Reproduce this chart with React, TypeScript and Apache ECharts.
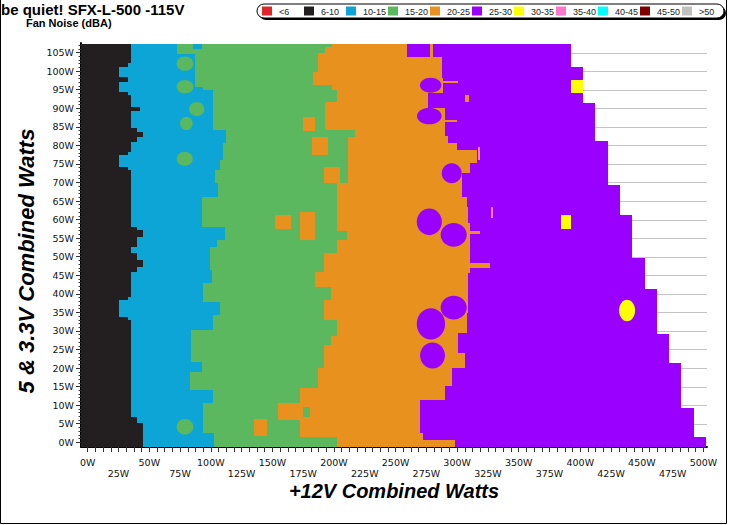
import { useEffect, useRef } from "react";
import * as echarts from "echarts";

// ---------- axes ----------
const X_MIN = -5.44;
const X_MAX = 502.9;
const Y_MIN = -1.27;
const Y_MAX = 107.57;
const Y_DATA_TOP = 107.3;

const X_LABEL_VALUES = [0, 25, 50, 75, 100, 125, 150, 175, 200, 225, 250, 275, 300, 325, 350, 375, 400, 425, 450, 475, 500];
const Y_LABEL_VALUES = [0, 5, 10, 15, 20, 25, 30, 35, 40, 45, 50, 55, 60, 65, 70, 75, 80, 85, 90, 95, 100, 105];

const TITLE = "be quiet! SFX-L-500 -115V";
const SUBTITLE = "Fan Noise (dBA)";
const X_NAME = "+12V Combined Watts";
const Y_NAME = "5 & 3.3V Combined Watts";

// ---------- legend ----------
const LEGEND_LABELS = ["<6", "6-10", "10-15", "15-20", "20-25", "25-30", "30-35", "35-40", "40-45", "45-50", ">50"];
const LEGEND_COLORS = ["#e0262b", "#231f20", "#0da5d5", "#5cb85e", "#e8911f", "#9900ff", "#ffff00", "#ff77cc", "#00ffff", "#7f0000", "#c0c0c0"];

// ---------- band edges: [fromY, toY, x] (watts) ----------
// edge between 6-10 (black) and 10-15 (blue)
const EDGE_BLACK_BLUE: number[][] = [
  [-1.3, 5.1, 44.7], [5.1, 6.9, 39.8], [6.9, 32.9, 35.2], [32.9, 33.8, 33], [33.8, 38.3, 25.7],
  [38.3, 39.2, 33], [39.2, 46, 35.2], [46, 47.3, 39.8], [47.3, 49.1, 44.7], [49.1, 50.9, 39.8],
  [50.9, 52.7, 35.2], [52.7, 55.4, 39.8], [55.4, 57.2, 44.7], [57.2, 58.1, 39.8], [58.1, 73.3, 35.2],
  [73.3, 74.2, 33], [74.2, 77.4, 25.7], [77.4, 78.3, 33], [78.3, 80.9, 35.2], [80.9, 82.3, 39.8],
  [82.3, 83.7, 44.7], [83.7, 84.6, 39.8], [84.6, 89.3, 35.2], [89.3, 90.2, 42.5], [90.2, 93.5, 35.2],
  [93.5, 94.4, 33], [94.4, 97.1, 25.7], [97.1, 98.5, 33], [98.5, 101.2, 25.7], [101.2, 102.1, 33],
  [102.1, 107.3, 35.2],
];
// edge between 10-15 (blue) and 15-20 (green)
const EDGE_BLUE_GREEN: number[][] = [
  [-1.3, 2.4, 102.7], [2.4, 10.5, 93.3], [10.5, 14.1, 102.1], [14.1, 19, 83], [19, 21.7, 92.6],
  [21.7, 30.3, 83.5], [30.3, 34.3, 102.1], [34.3, 37.9, 107.5], [37.9, 42.8, 94], [42.8, 46.4, 100.6],
  [46.4, 52.7, 99.2], [52.7, 54.5, 104.8], [54.5, 58.1, 111.5], [58.1, 66.2, 92.6], [66.2, 69.8, 106],
  [69.8, 73.3, 103.4], [73.3, 76, 107.5], [76, 80.5, 110.2], [80.5, 84.1, 112.1], [84.1, 94.9, 102.1],
  [94.9, 95.8, 94], [95.8, 104.6, 87.2], [104.6, 107.3, 72.3],
];
// edge between 15-20 (green) and 20-25 (orange)
const EDGE_GREEN_ORANGE: number[][] = [
  [-1.3, 1.5, 202.2], [1.5, 6, 172.4], [6, 10.5, 154.8], [10.5, 14.5, 172.4], [14.5, 19.9, 187.3],
  [19.9, 26.2, 191.9], [26.2, 28.5, 197.4], [28.5, 32.9, 202.2], [32.9, 38.4, 191.9], [38.4, 41.9, 197.4],
  [41.9, 45.9, 195.5], [45.9, 50.9, 191.9], [50.9, 54.5, 202.2], [54.5, 56.8, 210.4], [56.8, 69.8, 202.2],
  [69.8, 82.3, 211.7], [82.3, 84.1, 217.1], [84.1, 91.8, 192.7], [91.8, 94.9, 202.2], [94.9, 96.3, 198.2],
  [96.3, 99.8, 182.7], [99.8, 104.8, 187.3], [104.8, 106.6, 192.7], [106.6, 107.3, 198.2],
];
// edge between 20-25 (orange) and 25-30 (purple)
const EDGE_ORANGE_PURPLE: number[][] = [
  [-1.3, 0.7, 298.3], [0.7, 2.5, 272], [2.5, 11.5, 269.9], [11.5, 15.1, 290.2], [15.1, 20, 295.6],
  [20, 24, 306.5], [24, 29.4, 301.1], [29.4, 34.7, 307.8], [34.7, 39.3, 309], [39.3, 45.5, 309.2],
  [45.5, 59, 310.6], [59, 63.5, 309.2], [63.5, 66.2, 307.8], [66.2, 72.5, 303.8], [72.5, 75.2, 310.6],
  [75.2, 78.8, 316], [78.8, 80.6, 299.7], [80.6, 82.4, 292.9], [82.4, 90, 290.2], [90, 94, 276.7],
  [94, 98.1, 288.9], [98.1, 103.9, 287.5], [103.9, 107.3, 259.1],
];
// right end of measured data (25-30 purple ends)
const EDGE_PURPLE_END: number[][] = [
  [-1.3, 1.5, 502.2], [1.5, 9.3, 492.4], [9.3, 21.3, 482.1], [21.3, 29.2, 472.1], [29.2, 41.2, 462.4],
  [41.2, 49.6, 452.4], [49.6, 61.2, 442], [61.2, 69.3, 432.3], [69.3, 81.3, 422.3], [81.3, 91.3, 412.3],
  [91.3, 101.2, 402], [101.2, 107.3, 392.5],
];
const BAND_CLASSES = [1, 2, 3, 4, 5];

// ---------- islands: ellipses [cx, cy, rx, ry, class] ----------
const ISLANDS_ROUND: number[][] = [
  [79, 102, 6.8, 1.9, 3], [79, 95.8, 6.8, 1.8, 3], [88.5, 89.8, 6.2, 1.9, 3], [80.1, 85.9, 5.1, 1.8, 3],
  [78.8, 76.4, 6.5, 1.9, 3], [79, 4.2, 6.8, 2.1, 3],
  [278.5, 96.2, 8.7, 2.0, 5], [277.4, 87.9, 10, 2.25, 5], [295.6, 72.5, 8.1, 2.7, 5], [277.4, 59.4, 10.2, 3.6, 5],
  [297.2, 55.9, 10.6, 3.2, 5], [297.2, 36.3, 10.6, 3.2, 5], [278.7, 31.9, 11.5, 4.2, 5], [280, 23.4, 10.1, 3.5, 5],
  [438, 35.5, 6.5, 2.9, 6],
];
// islands: rectangles [x0, x1, y0, y1, class]
const ISLANDS_BOX: number[][] = [
  [85.8, 92.6, 105.9, 107.3, 2],
  [175.1, 184.6, 83.9, 87.6, 4], [181.9, 195, 77.4, 82.2, 4], [191.9, 204.9, 69.8, 74.1, 4],
  [152.1, 164.9, 57.4, 61.2, 4], [172.4, 184.6, 54.5, 62.1, 4], [184.6, 195.5, 41.9, 45.9, 4],
  [135.1, 145.4, 1.8, 6.3, 4], [175, 180.6, 6.9, 9.6, 3],
  [278, 280.4, 103.9, 107.3, 4], [288.9, 301, 96.7, 97.2, 4], [290.2, 299.7, 86.3, 86.8, 4],
  [306.5, 309.5, 91.8, 93.6, 4], [310.6, 318.6, 56.2, 56.8, 4], [310.6, 326.8, 46.9, 48.2, 4],
  [327.6, 329.4, 60.3, 63.5, 7], [317.2, 318.8, 76, 79.6, 7],
  [392.1, 402.1, 94, 97.6, 6], [384, 392.5, 57.4, 61.2, 6],
];

function edgeAt(edge: number[][], y: number): number {
  for (const [a, b, x] of edge) if (y >= a && y < b) return x;
  return edge[edge.length - 1][2];
}

function buildBands(): number[][] {
  const edges = [EDGE_BLACK_BLUE, EDGE_BLUE_GREEN, EDGE_GREEN_ORANGE, EDGE_ORANGE_PURPLE, EDGE_PURPLE_END];
  const set = new Set<number>();
  edges.forEach((e) => e.forEach(([a, b]) => { set.add(a); set.add(b); }));
  const breaks = Array.from(set).sort((p, q) => p - q);
  const out: number[][] = [];
  for (let i = 0; i < breaks.length - 1; i++) {
    const y0 = breaks[i];
    const y1 = Math.min(breaks[i + 1], Y_DATA_TOP);
    if (y1 <= y0) continue;
    const mid = (y0 + y1) / 2;
    const xs = [X_MIN, ...edges.map((e) => edgeAt(e, mid))];
    for (let k = 0; k < BAND_CLASSES.length; k++) {
      if (xs[k + 1] > xs[k]) out.push([xs[k], xs[k + 1], y0, y1, BAND_CLASSES[k]]);
    }
  }
  return out;
}

const X_TICKS: number[] = [];
for (let v = 0; v <= 500; v += 6.25) X_TICKS.push(v);
const Y_MINOR_TICKS: number[] = [];
for (let v = 0; v <= 107; v += 1) Y_MINOR_TICKS.push(v);

const LABEL_FONT = "DejaVu Sans";

function buildOption(): any {
  const legendEls: any[] = [
    { type: "rect", shape: { x: 259, y: 6, width: 467, height: 14, r: 7 }, style: { fill: "#000" } },
    { type: "rect", shape: { x: 257, y: 4, width: 467, height: 14, r: 7 }, style: { fill: "#fff", stroke: "#000", lineWidth: 1 } },
  ];
  LEGEND_LABELS.forEach((lab, i) => {
    const x = 262 + 42 * i;
    legendEls.push({ type: "rect", shape: { x, y: 6.5, width: 10, height: 9 }, style: { fill: LEGEND_COLORS[i] } });
    legendEls.push({
      type: "text", x: x + 17, y: 11.5,
      style: { text: lab, font: '9px "Liberation Sans"', fill: "#222", align: "left", verticalAlign: "middle", textAlign: "left", textVerticalAlign: "middle" },
    });
  });

  return {
    animation: false,
    backgroundColor: "#fff",
    grid: { left: 81, right: 22, top: 43, bottom: 78, containLabel: false },
    xAxis: [{
      type: "value", min: X_MIN, max: X_MAX,
      axisLine: { show: true, onZero: false, lineStyle: { color: "#000", width: 2 } },
      axisTick: { show: true, customValues: X_TICKS, length: 5, lineStyle: { color: "#333" } },
      axisLabel: {
        customValues: X_LABEL_VALUES, margin: 10, lineHeight: 11, fontSize: 9.5, fontFamily: LABEL_FONT, color: "#111",
        formatter: (v: number) => (v % 50 === 0 ? `${v}W` : `\n${v}W`),
      },
      splitLine: { show: false },
    }],
    yAxis: [
      {
        type: "value", min: Y_MIN, max: Y_MAX,
        axisLine: { show: true, onZero: false, lineStyle: { color: "#000", width: 2 } },
        axisTick: { show: true, customValues: Y_LABEL_VALUES, length: 5, lineStyle: { color: "#333" } },
        axisLabel: { customValues: Y_LABEL_VALUES, margin: 7, fontSize: 9.5, fontFamily: LABEL_FONT, color: "#111", formatter: (v: number) => `${v}W` },
        splitLine: { show: false },
      },
      {
        type: "value", min: Y_MIN, max: Y_MAX, position: "left", offset: 0,
        axisLine: { show: false, onZero: false },
        axisTick: { show: true, customValues: Y_MINOR_TICKS, length: 2.5, lineStyle: { color: "#333" } },
        axisLabel: { show: false },
        splitLine: { show: false },
      },
    ],
    series: [
      {
        type: "custom", name: "gridlines", silent: true, z: 1,
        data: Y_LABEL_VALUES.map((v) => [X_MIN, v]),
        encode: { x: 0, y: 1 },
        renderItem: (_p: any, api: any) => {
          const y = Math.round(api.coord([X_MIN, api.value(1)])[1]) + 0.5;
          const x0 = api.coord([X_MIN, 0])[0];
          const x1 = api.coord([X_MAX, 0])[0];
          return { type: "line", shape: { x1: x0, y1: y, x2: x1, y2: y }, style: { stroke: "#c4c4c4", lineWidth: 1 } };
        },
      },
      {
        type: "custom", name: "bands", silent: true, z: 2, clip: true,
        data: [...buildBands(), ...ISLANDS_BOX.filter((b) => b[4] !== 2 && b[4] !== 3 && false)],
        encode: { x: [0, 1], y: [2, 3] },
        renderItem: (_p: any, api: any) => {
          const p0 = api.coord([api.value(0), api.value(3)]);
          const p1 = api.coord([api.value(1), api.value(2)]);
          const l = Math.round(p0[0]), t = Math.round(p0[1]), r = Math.round(p1[0]), b = Math.round(p1[1]);
          return { type: "rect", shape: { x: l, y: t, width: r - l, height: b - t }, style: { fill: LEGEND_COLORS[api.value(4)] } };
        },
      },
      {
        type: "custom", name: "islandsRound", silent: true, z: 3, clip: true,
        data: ISLANDS_ROUND,
        encode: { x: 0, y: 1 },
        renderItem: (_p: any, api: any) => {
          const c = api.coord([api.value(0), api.value(1)]);
          const s = api.size([api.value(2), api.value(3)]);
          return { type: "ellipse", shape: { cx: c[0], cy: c[1], rx: s[0], ry: s[1] }, style: { fill: LEGEND_COLORS[api.value(4)] } };
        },
      },
      {
        type: "custom", name: "islandsBox", silent: true, z: 4, clip: true,
        data: ISLANDS_BOX,
        encode: { x: [0, 1], y: [2, 3] },
        renderItem: (_p: any, api: any) => {
          const p0 = api.coord([api.value(0), api.value(3)]);
          const p1 = api.coord([api.value(1), api.value(2)]);
          const l = Math.round(p0[0]), t = Math.round(p0[1]), r = Math.round(p1[0]), b = Math.round(p1[1]);
          return { type: "rect", shape: { x: l, y: t, width: Math.max(1, r - l), height: Math.max(1, b - t) }, style: { fill: LEGEND_COLORS[api.value(4)] } };
        },
      },
    ],
    graphic: [
      { type: "polyline", shape: { points: [[0.5, 0], [0.5, 523.5], [726.5, 523.5], [726.5, 0]] }, style: { stroke: "#000", fill: null, lineWidth: 1 }, silent: true },
      {
        type: "text", x: 1, y: 2,
        style: { text: TITLE, font: 'bold 15px "Liberation Sans"', fill: "#000", align: "left", verticalAlign: "top", textAlign: "left", textVerticalAlign: "top" },
      },
      {
        type: "text", x: 26, y: 17,
        style: { text: SUBTITLE, font: 'bold 11px "Liberation Sans"', fill: "#000", align: "left", verticalAlign: "top", textAlign: "left", textVerticalAlign: "top" },
      },
      ...legendEls,
      {
        type: "text", x: 394, y: 491,
        style: { text: X_NAME, font: 'italic bold 20px "Liberation Sans"', fill: "#000", align: "center", verticalAlign: "middle", textAlign: "center", textVerticalAlign: "middle" },
      },
      {
        type: "text", x: 26, y: 261, rotation: Math.PI / 2,
        style: { text: Y_NAME, font: 'italic bold 22px "Liberation Sans"', fill: "#000", align: "center", verticalAlign: "middle", textAlign: "center", textVerticalAlign: "middle" },
      },
    ],
  };
}

export default function App() {
  const ref = useRef<HTMLDivElement>(null);
  useEffect(() => {
    if (!ref.current) return;
    const chart = echarts.init(ref.current, null, { renderer: "svg" });
    chart.setOption(buildOption());
    return () => chart.dispose();
  }, []);
  return <div ref={ref} style={{ position: "absolute", left: 0, top: 0, width: 729, height: 525, background: "#fff" }} />;
}
